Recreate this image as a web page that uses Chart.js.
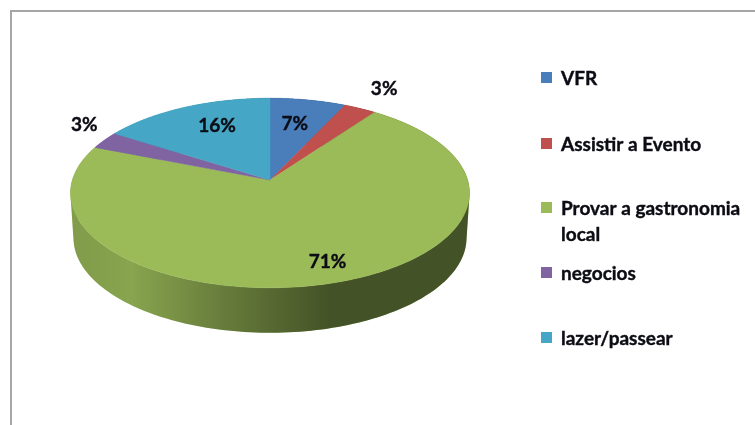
<!DOCTYPE html>
<html><head><meta charset="utf-8">
<style>
html,body{margin:0;padding:0;background:#fff;overflow:hidden}
#wrap{position:absolute;left:0;top:0;width:755px;height:425px}
canvas{display:block;filter:blur(.45px)}
</style>
<script src="https://cdn.jsdelivr.net/npm/chart.js@4"></script>
</head><body><div id="wrap"><canvas id="c" width="755" height="425"></canvas></div>
<script>
const categories = ['VFR','Assistir a Evento','Provar a gastronomia local','negocios','lazer/passear'];
const legendLines = [['VFR'],['Assistir a Evento'],['Provar a gastronomia','local'],['negocios'],['lazer/passear']];
const percentages = [7,3,71,3,16];
const sliceColors = ['#4a7ebb','#c0504d','#9bbb59','#8064a2','#45a7c5'];

const stretch = 2.125, persp = 0.137, depth = 45, baseScale = 0.985;
const labelPlace = [{r:.68,dx:-2,dy:0},{r:1.31,dx:0,dy:0},{r:.818,dx:7,dy:0},{r:1.128,dx:0,dy:-11},{r:.719,dx:10,dy:0}];
const legendBase = [85,151,215,280,345];
const FONT = 'Lato, sans-serif';

function project(el,a,f){
  const x=Math.cos(a)*f, y=Math.sin(a)*f, w=1-persp*y;
  return [el.x+stretch*el.outerRadius*x/w, el.y+el.outerRadius*y/w];
}
function rim(el,steps){
  const pts=[];
  for(let i=0;i<=steps;i++){
    pts.push(project(el,el.startAngle+(el.endAngle-el.startAngle)*i/steps,1));
  }
  return pts;
}
const pie3d = {
  id:'pie3d',
  beforeDatasetDraw(chart,args){
    const ctx=chart.ctx, arcs=chart.getDatasetMeta(args.index).data;
    ctx.save();
    // side wall: a union of consistently wound quads between the top rim and the base rim
    arcs.forEach((el,i)=>{
      const top=rim(el,180), cx=el.x;
      const base=top.map(p=>[cx+(p[0]-cx)*baseScale,p[1]+depth]);
      const path=()=>{
        ctx.beginPath();
        for(let j=0;j<top.length-1;j++){
          let q=[top[j],top[j+1],base[j+1],base[j]];
          let area=0;
          q.forEach((p,k)=>{const n=q[(k+1)%4];area+=p[0]*n[1]-n[0]*p[1];});
          if(area<0) q=q.reverse();
          q.forEach((p,k)=>k?ctx.lineTo(p[0],p[1]):ctx.moveTo(p[0],p[1]));
          ctx.closePath();
        }
      };
      path();
      ctx.fillStyle=sliceColors[i];
      ctx.fill();
      const l=cx-stretch*el.outerRadius, r=cx+stretch*el.outerRadius;
      const g=ctx.createLinearGradient(l,0,r,0);
      g.addColorStop(0,'rgba(0,0,0,.17)');
      g.addColorStop(.15,'rgba(0,0,0,.12)');
      g.addColorStop(.33,'rgba(0,0,0,.29)');
      g.addColorStop(.48,'rgba(0,0,0,.42)');
      g.addColorStop(.65,'rgba(0,0,0,.56)');
      g.addColorStop(1,'rgba(0,0,0,.56)');
      path();
      ctx.fillStyle=g;
      ctx.fill();
    });
    // top faces
    arcs.forEach((el,i)=>{
      ctx.beginPath();
      ctx.moveTo(el.x,el.y);
      rim(el,180).forEach(p=>ctx.lineTo(p[0],p[1]));
      ctx.closePath();
      ctx.fillStyle=sliceColors[i];
      ctx.strokeStyle=sliceColors[i];
      ctx.lineWidth=.5;
      ctx.fill();
      ctx.stroke();
    });
    ctx.restore();
    return false;
  },
  afterDraw(chart){
    const ctx=chart.ctx, arcs=chart.getDatasetMeta(0).data;
    ctx.save();
    // border
    ctx.strokeStyle='#a6a6a6';
    ctx.lineWidth=2;
    ctx.beginPath();
    ctx.moveTo(11,425);ctx.lineTo(11,11);ctx.lineTo(755,11);
    ctx.stroke();
    const ink='#0c0c14';
    const text=(t,x,y)=>{ctx.fillText(t,x,y);ctx.strokeText(t,x,y);};
    ctx.strokeStyle=ink;
    ctx.lineWidth=.4;
    // percentage labels
    ctx.fillStyle=ink;
    ctx.font='bold 19px '+FONT;
    ctx.textAlign='center';
    ctx.textBaseline='middle';
    arcs.forEach((el,i)=>{
      const m=(el.startAngle+el.endAngle)/2, s=labelPlace[i];
      const p=project(el,m,s.r);
      text(percentages[i]+'%',p[0]+s.dx,p[1]+s.dy);
    });
    // legend
    ctx.textAlign='left';
    ctx.textBaseline='alphabetic';
    legendLines.forEach((lines,i)=>{
      ctx.fillStyle=sliceColors[i];
      ctx.fillRect(541,legendBase[i]-13,11,11);
      ctx.fillStyle=ink;
      lines.forEach((t,j)=>text(t,561,legendBase[i]+j*26));
    });
    ctx.restore();
  }
};
new Chart(document.getElementById('c'),{
  type:'pie',
  data:{labels:categories,datasets:[{data:percentages,backgroundColor:sliceColors,borderWidth:0}]},
  options:{
    responsive:false,animation:false,
    layout:{padding:{left:177,right:392,top:87,bottom:152}},
    plugins:{legend:{display:false},tooltip:{enabled:false}},
    events:[]
  },
  plugins:[pie3d]
});
</script></body></html>
